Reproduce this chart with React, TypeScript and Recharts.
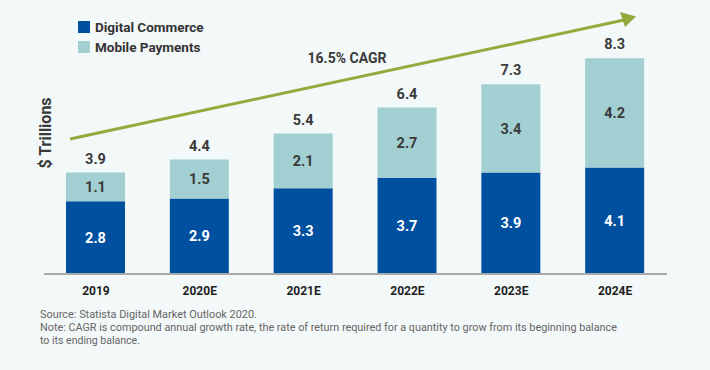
import React from 'react';
import { BarChart, Bar, XAxis, YAxis, Legend, LabelList } from 'recharts';

const categories = ['2019', '2020E', '2021E', '2022E', '2023E', '2024E'];
const digitalCommerce = [2.8, 2.9, 3.3, 3.7, 3.9, 4.1];
const mobilePayments = [1.1, 1.5, 2.1, 2.7, 3.4, 4.2];
const totals = [3.9, 4.4, 5.4, 6.4, 7.3, 8.3];

const data = categories.map((c, i) => ({
  year: c,
  digital: digitalCommerce[i],
  mobile: mobilePayments[i],
  total: totals[i],
}));

const FONT = "Roboto, 'Liberation Sans', Arial, sans-serif";
const BG = '#f3f8f8';
const DARK = '#0050a0';
const LIGHT = '#a2cfd1';
const GREEN = '#93ab3c';
const TEXT = '#3a3a3a';

const renderLegend = (props: any) => {
  const { payload } = props;
  return (
    <div style={{ fontFamily: FONT }}>
      {(payload || []).map((p: any) => (
        <div key={p.value} style={{ display: 'flex', alignItems: 'center', height: 20 }}>
          <span style={{ display: 'inline-block', width: 12, height: 12, background: p.color, marginRight: 5 }} />
          <span style={{ fontSize: 13.5, fontWeight: 700, color: '#333' }}>{p.value}</span>
        </div>
      ))}
    </div>
  );
};

const labelStyle = { fontFamily: FONT, fontSize: 14.5, fontWeight: 700 };

export default function App() {
  return (
    <div style={{ position: 'absolute', left: 0, top: 0, width: 710, height: 370, background: BG, overflow: 'hidden' }}>
      <BarChart
        width={710}
        height={370}
        data={data}
        margin={{ top: 14, right: 43, left: 44, bottom: 66 }}
      >
        <YAxis hide domain={[0, 10]} type="number" />
        <XAxis
          dataKey="year"
          height={30}
          axisLine={{ stroke: '#aaaaaa', strokeWidth: 2 }}
          tickLine={false}
          tickMargin={6}
          tick={{ fontFamily: FONT, fontSize: 12, fontWeight: 700, fill: '#1e1e1e' }}
        />
        <Legend
          layout="vertical"
          align="center"
          verticalAlign="middle"
          content={renderLegend}
          wrapperStyle={{ left: 78, top: 17, width: 'auto', height: 'auto' }}
        />
        <Bar dataKey="digital" name="Digital Commerce" stackId="a" fill={DARK} barSize={59} isAnimationActive={false}>
          <LabelList dataKey="digital" position="center" fill="#ffffff" style={labelStyle} />
        </Bar>
        <Bar dataKey="mobile" name="Mobile Payments" stackId="a" fill={LIGHT} barSize={59} isAnimationActive={false}>
          <LabelList dataKey="mobile" position="center" fill={TEXT} style={labelStyle} />
          <LabelList dataKey="total" position="top" offset={9} fill={TEXT} style={labelStyle} />
        </Bar>
      </BarChart>
      <svg
        width={710}
        height={370}
        style={{ position: 'absolute', left: 0, top: 0, pointerEvents: 'none' }}
      >
        <line x1={70} y1={139} x2={624} y2={20} stroke={GREEN} strokeWidth={3} />
        <polygon points="636,16.5 620,12 625,27" fill={GREEN} />
        <text x={347} y={63} textAnchor="middle" fontFamily={FONT} fontSize={14} fontWeight={700} fill={TEXT}>
          16.5% CAGR
        </text>
        <text
          x={0}
          y={0}
          transform="translate(51,133) rotate(-90)"
          textAnchor="middle"
          fontFamily={FONT}
          fontSize={16}
          fontWeight={700}
          fill={TEXT}
        >
          $ Trillions
        </text>
        <g fontFamily={FONT} fontSize={11.5} fill="#666666">
          <text x={40} y={318} textLength={217} lengthAdjust="spacingAndGlyphs">
            Source: Statista Digital Market Outlook 2020.
          </text>
          <text x={40} y={331} textLength={577} lengthAdjust="spacingAndGlyphs">
            Note: CAGR is compound annual growth rate, the rate of return required for a quantity to grow from its beginning balance
          </text>
          <text x={40} y={344} textLength={100} lengthAdjust="spacingAndGlyphs">
            to its ending balance.
          </text>
        </g>
      </svg>
    </div>
  );
}
